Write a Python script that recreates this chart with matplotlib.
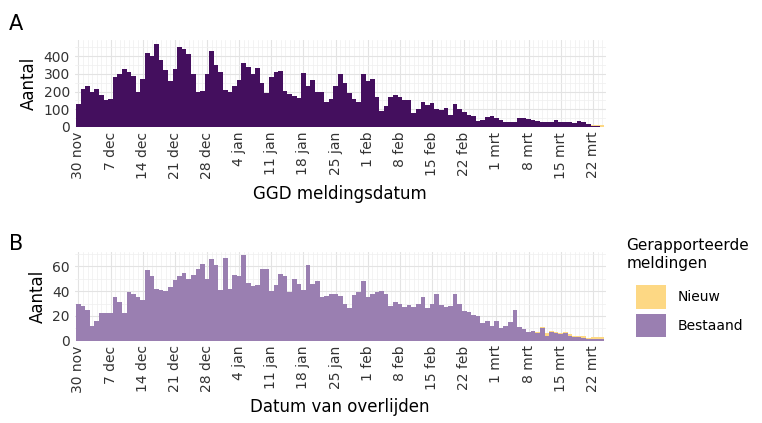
import matplotlib
matplotlib.use("Agg")
import matplotlib.pyplot as plt
import numpy as np
import datetime as dt

start = dt.date(2020, 11, 30)
ndays = 117
dates = [start + dt.timedelta(days=i) for i in range(ndays)]

a_bestaand = [130,215,230,195,215,180,150,
              155,280,300,330,310,290,200,
              270,420,400,470,380,320,260,
              330,450,440,410,300,200,205,
              300,430,350,310,210,200,230,
              265,360,340,300,335,250,190,
              280,310,315,205,185,175,165,
              305,230,265,200,200,140,160,
              230,300,250,190,160,140,
              300,260,270,170,90,120,170,
              180,170,150,150,80,100,140,
              125,135,100,95,105,70,130,
              100,85,70,60,35,40,55,
              60,50,40,25,25,25,50,
              50,45,40,35,30,30,30,
              40,30,25,30,20,35,30,
              15,5,3,2]
a_nieuw = [0]*112 + [3,6,10,8,5]

b_bestaand = [30,28,25,12,16,22,22,
              22,35,31,22,39,38,35,
              33,57,52,42,41,40,43,
              49,52,55,50,53,58,62,
              50,66,61,41,67,42,53,
              52,69,47,44,45,58,58,
              40,45,54,52,39,50,46,
              41,61,46,48,35,36,38,
              38,36,30,26,37,39,48,
              35,38,39,40,38,28,31,
              30,27,29,27,30,35,26,
              30,38,29,27,28,38,30,
              24,23,21,20,14,16,12,
              16,10,12,15,25,11,9,
              7,8,6,10,4,7,6,
              5,6,4,3,3,2,1,
              1,1,1,0,0]
b_nieuw = [0]*98 + [0,0,1,1,2,1,1, 1,1,1,1,1,2,1, 2,2,2,2,1]

months = {11:"nov",12:"dec",1:"jan",2:"feb",3:"mrt"}
tick_idx = list(range(0, 113, 7))
tick_labels = [f"{dates[i].day} {months[dates[i].month]}" for i in tick_idx]

n = min(len(a_bestaand), len(a_nieuw), len(b_bestaand), len(b_nieuw), ndays)
x = np.arange(n)

c_a = "#440f5e"
c_b = "#9a7fb1"
c_new = "#fdd884"

fig = plt.figure(figsize=(7.62, 4.23), dpi=100)
axA = fig.add_axes([0.098, 0.70, 0.697, 0.205])
axB = fig.add_axes([0.098, 0.195, 0.697, 0.21])

def style(ax, ymax, major, minor):
    ax.set_facecolor("white")
    ax.set_xlim(-0.8, n - 0.2)
    ax.set_ylim(0, ymax)
    ax.set_xticks(tick_idx)
    ax.set_xticks(np.arange(0, n), minor=True)
    ax.set_xticklabels(tick_labels, rotation=90, fontsize=10, color="#333333")
    ax.set_yticks(major)
    ax.set_yticks(minor, minor=True)
    ax.tick_params(axis="y", which="both", labelsize=10, colors="#333333", length=0)
    ax.tick_params(axis="x", which="both", length=0)
    ax.grid(True, which="major", color="#e3e3e3", lw=0.8)
    ax.grid(True, which="minor", color="#efefef", lw=0.5)
    ax.set_axisbelow(True)
    for s in ax.spines.values():
        s.set_visible(False)
    ax.set_ylabel("Aantal", fontsize=12)

axA.bar(x, a_bestaand[:n], width=1.0, color=c_a, lw=0)
axA.bar(x, a_nieuw[:n], bottom=a_bestaand[:n], width=1.0, color=c_new, lw=0)
style(axA, 490, [0,100,200,300,400], [50,150,250,350,450])
axA.set_xlabel("GGD meldingsdatum", fontsize=12)

axB.bar(x, b_bestaand[:n], width=1.0, color=c_b, lw=0, label="Bestaand")
axB.bar(x, b_nieuw[:n], bottom=b_bestaand[:n], width=1.0, color=c_new, lw=0, label="Nieuw")
style(axB, 72, [0,20,40,60], [10,30,50,70])
axB.set_xlabel("Datum van overlijden", fontsize=12)

fig.text(0.012, 0.93, "A", fontsize=15)
fig.text(0.012, 0.41, "B", fontsize=15)

h, l = axB.get_legend_handles_labels()
fig.text(0.822, 0.36, "Gerapporteerde\nmeldingen", fontsize=11, va="bottom", linespacing=1.2)
leg = fig.legend(h[::-1], l[::-1], loc="upper left", bbox_to_anchor=(0.818, 0.355),
                 frameon=False, fontsize=10, handlelength=2.2, handleheight=2.2,
                 labelspacing=0.4)
fig.savefig("out.png", dpi=100, facecolor="white")
